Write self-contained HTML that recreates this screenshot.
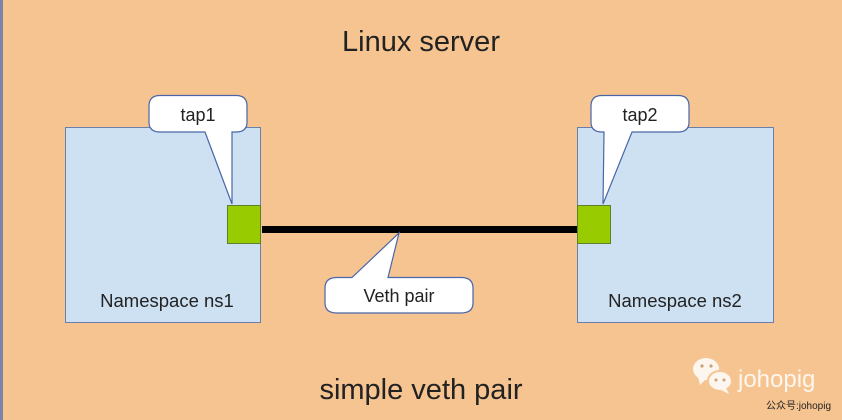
<!DOCTYPE html>
<html><head><meta charset="utf-8"><style>
html,body{margin:0;padding:0;background:#f6c490;}
svg{display:block}
text{font-family:"Liberation Sans",sans-serif;fill:#222}
</style></head><body>
<svg width="842" height="420" viewBox="0 0 842 420" xmlns="http://www.w3.org/2000/svg">
<rect width="842" height="420" fill="#f6c490"/>
<rect x="0" y="0" width="3" height="420" fill="#7a86a8"/>
<text x="421" y="51" font-size="29" text-anchor="middle">Linux server</text>
<text x="421" y="399" font-size="29" text-anchor="middle">simple veth pair</text>
<rect x="65.5" y="127.5" width="195" height="195" fill="#cde1f3" stroke="#6a7faa" stroke-width="1"/>
<rect x="577.5" y="127.5" width="196" height="195" fill="#cde1f3" stroke="#6a7faa" stroke-width="1"/>
<text x="167" y="307" font-size="18.5" text-anchor="middle">Namespace ns1</text>
<text x="675" y="307" font-size="18.5" text-anchor="middle">Namespace ns2</text>
<rect x="262" y="226" width="316" height="7" fill="#000"/>
<rect x="227.5" y="205.5" width="33" height="38" fill="#99cc00" stroke="#5a8030"/>
<rect x="577.5" y="205.5" width="33" height="38" fill="#99cc00" stroke="#5a8030"/>
<path d="M160,95.5 H236 Q247,95.5 247,106 V122 Q247,132 236,132 H232 V204 L205,132 H160 Q149,132 149,122 V106 Q149,95.5 160,95.5 Z" fill="#fff" stroke="#4a66a8" stroke-width="1.2"/>
<text x="198" y="121" font-size="18" text-anchor="middle">tap1</text>
<path d="M602,95.5 H678 Q689,95.5 689,106 V122 Q689,132 678,132 H632 L603,204 L604,132 H602 Q591,132 591,122 V106 Q591,95.5 602,95.5 Z" fill="#fff" stroke="#4a66a8" stroke-width="1.2"/>
<text x="640" y="121" font-size="18" text-anchor="middle">tap2</text>
<path d="M337,277.5 H352 L399,233 L388,277.5 H461 Q473,277.5 473,288 V303 Q473,313 461,313 H337 Q325,313 325,303 V288 Q325,277.5 337,277.5 Z" fill="#fff" stroke="#4a66a8" stroke-width="1.2"/>
<text x="399" y="302" font-size="18" text-anchor="middle">Veth pair</text>
<g fill="#fdf6ee">
<ellipse cx="706" cy="369" rx="13" ry="11"/>
<path d="M698,377 L700,385 L706,379 Z"/>
<ellipse cx="720" cy="381" rx="12" ry="10" stroke="#f6c490" stroke-width="2"/>
<path d="M726,388 L729,394 L721,390 Z"/>
</g>
<g fill="#c9a27a"><circle cx="702" cy="366" r="1.6"/><circle cx="711" cy="366" r="1.6"/><circle cx="716" cy="380" r="1.5"/><circle cx="724" cy="380" r="1.5"/></g>
<text x="738" y="387" font-size="24" style="fill:#fdf6ee">johopig</text>
<text x="766" y="409" font-size="10" style="font-family:'Liberation Sans','Noto Sans CJK SC',sans-serif;fill:#222">公众号:johopig</text>
</svg>
</body></html>
